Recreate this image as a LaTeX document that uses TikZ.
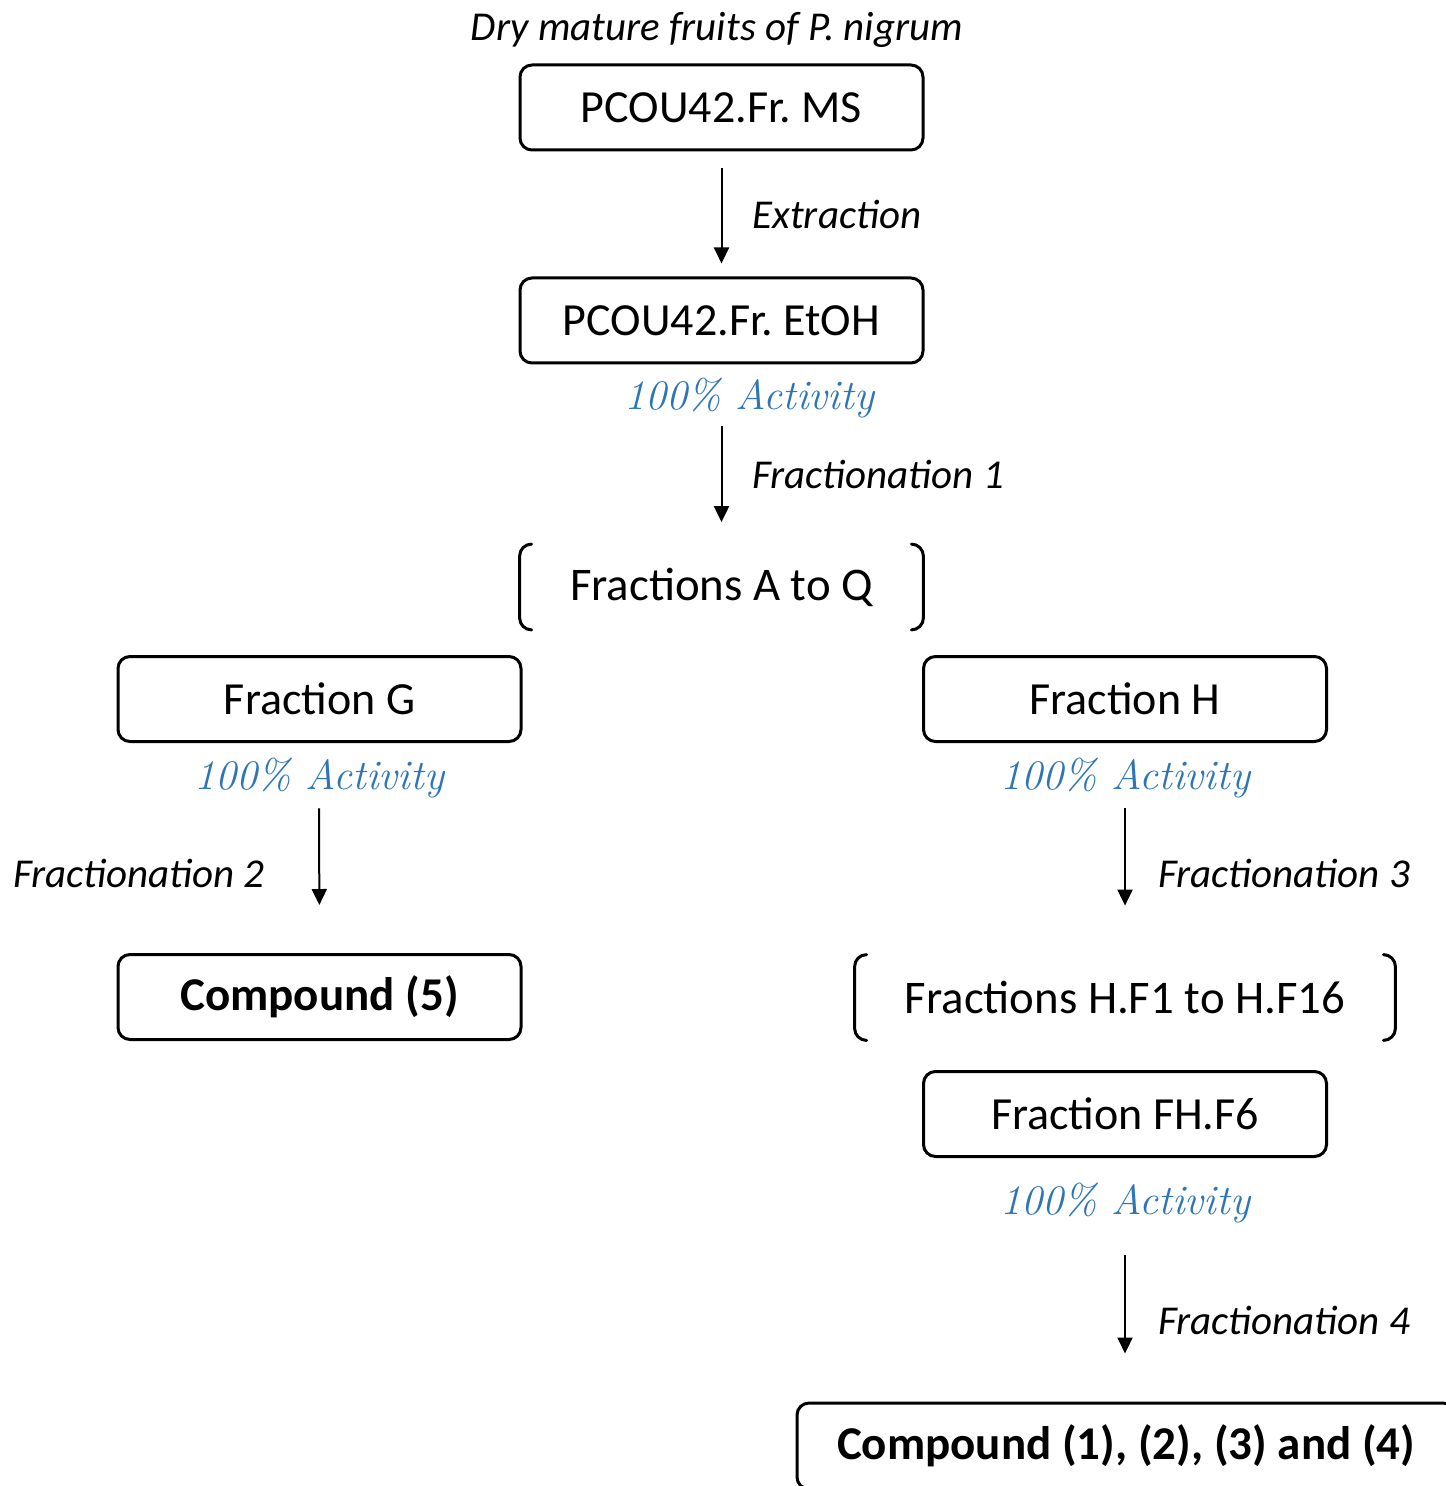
\documentclass[tikz,border=0pt]{standalone}
\usepackage{fontspec}
\newfontfamily\calfont{Carlito}
\usetikzlibrary{arrows.meta}
\definecolor{actblue}{RGB}{46,117,182}
\frenchspacing
\begin{document}
\begin{tikzpicture}[x=0.5pt,y=-0.5pt,
 box/.style={draw, line width=1.5pt, rounded corners=6pt, minimum width=201.5pt, minimum height=42.5pt, inner sep=0pt, font=\calfont\fontsize{23}{27}\selectfont},
 boldbox/.style={box, font=\calfont\bfseries\fontsize{23.5}{27}\selectfont},
 brknode/.style={inner sep=0pt, minimum height=42.5pt, font=\calfont\fontsize{23.4}{27}\selectfont},
 lab/.style={inner sep=0pt, font=\calfont\itshape\fontsize{20.5}{24}\selectfont},
 act/.style={inner sep=0pt, text=actblue, font=\itshape\fontsize{21}{24}\selectfont},
 arr/.style={line width=1pt, -{Triangle[length=8pt,width=7.5pt]}},
 brk/.style={line width=1.5pt, line cap=round}]
\useasboundingbox[fill=white] (0,0) rectangle (1445,1486);

\node[lab] (title) at (717,30) {Dry mature fruits of P. nigrum};
\node[box] (ms) at (721.5,107.5) {PCOU42.Fr. MS};
\node[box] (etoh) at (721.5,320.5) {PCOU42.Fr. EtOH};
\node[act] (act1) at (749,398) {100\% Activity};
\node[brknode, minimum width=201.5pt] (faq) at (721.5,587) {Fractions A to Q};
\node[box] (fg) at (319.5,699) {Fraction G};
\node[box] (fh) at (1125,699) {Fraction H};
\node[act] (actg) at (319,778) {100\% Activity};
\node[act] (acth) at (1125,778) {100\% Activity};
\node[boldbox] (c5) at (319.5,997) {Compound (5)};
\node[brknode, minimum width=270pt] (fhf) at (1125,997.5) {Fractions H.F1 to H.F16};
\node[box] (fhf6) at (1125,1114) {Fraction FH.F6};
\node[act] (act3) at (1125,1203) {100\% Activity};
\node[boldbox, minimum width=329pt, minimum height=43pt] (cfin) at (1126,1446) {Compound (1), (2), (3) and (4)};

% brackets
\foreach \n in {faq,fhf}{
 \draw[brk] ([xshift=6pt]\n.north west) to[out=180,in=90] ([yshift=-6pt]\n.north west)
   -- ([yshift=6pt]\n.south west) to[out=-90,in=180] ([xshift=6pt]\n.south west);
 \draw[brk] ([xshift=-6pt]\n.north east) to[out=0,in=90] ([yshift=-6pt]\n.north east)
   -- ([yshift=6pt]\n.south east) to[out=-90,in=0] ([xshift=-6pt]\n.south east);
}

% arrows
\draw[arr, shorten <=8.5pt, shorten >=6.5pt] (ms.south) -- (etoh.north);
\draw[arr, shorten <=4pt, shorten >=11pt] (etoh.south |- act1.south) -- (faq.north);
\draw[arr, shorten <=5pt, shorten >=24pt] (actg.south) -- (c5.north);
\draw[arr, shorten <=5pt, shorten >=24.5pt] (acth.south) -- (fhf.north);
\draw[arr, shorten <=16pt, shorten >=24pt] (act3.south) -- (act3.south |- cfin.north);

% labels
\node[lab, anchor=west] (l1) at (752,214) {Extraction};
\node[lab, anchor=west] (l2) at (752,474) {Fractionation 1};
\node[lab, anchor=east] (l3) at (265,873) {Fractionation 2};
\node[lab, anchor=west] (l4) at (1158,873) {Fractionation 3};
\node[lab, anchor=west] (l5) at (1158,1320) {Fractionation 4};
\end{tikzpicture}
\end{document}
